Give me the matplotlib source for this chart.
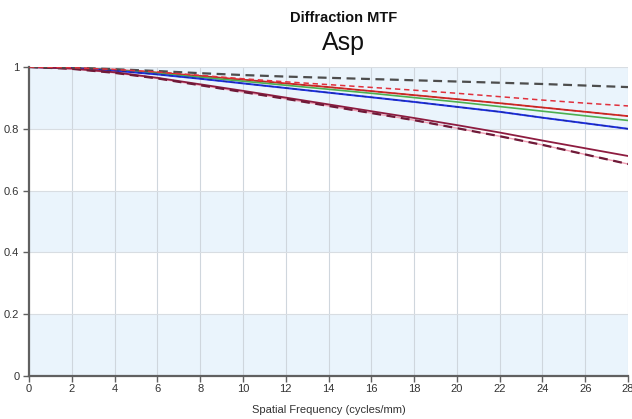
import matplotlib
matplotlib.use("Agg")
import matplotlib.pyplot as plt

plt.rcParams['font.family'] = ['Liberation Sans', 'DejaVu Sans']

freq = [0, 2, 4, 6, 8, 10, 12, 14, 16, 18, 20, 22, 24, 26, 28]
grey_dash = [1, 0.998, 0.993, 0.987, 0.980, 0.974, 0.969, 0.965, 0.961, 0.957, 0.953, 0.949, 0.945, 0.940, 0.935]
red_dash = [1, 0.998, 0.992, 0.984, 0.973, 0.962, 0.952, 0.943, 0.934, 0.925, 0.915, 0.904, 0.893, 0.883, 0.874]
red_solid = [1, 0.997, 0.991, 0.982, 0.971, 0.959, 0.947, 0.935, 0.922, 0.909, 0.896, 0.883, 0.869, 0.855, 0.841]
green_solid = [1, 0.997, 0.990, 0.979, 0.967, 0.954, 0.941, 0.928, 0.915, 0.901, 0.887, 0.872, 0.857, 0.842, 0.827]
blue_solid = [1, 0.997, 0.988, 0.976, 0.962, 0.947, 0.932, 0.917, 0.902, 0.887, 0.871, 0.855, 0.836, 0.818, 0.800]
maroon_solid = [1, 0.995, 0.983, 0.965, 0.944, 0.923, 0.901, 0.879, 0.857, 0.835, 0.812, 0.788, 0.762, 0.737, 0.712]
maroon_dash = [1, 0.994, 0.981, 0.963, 0.941, 0.919, 0.897, 0.874, 0.851, 0.828, 0.802, 0.776, 0.748, 0.717, 0.686]

xticks = list(range(0, 29, 2))
yticks = [0, 0.2, 0.4, 0.6, 0.8, 1]
ytick_labels = ['0', '0.2', '0.4', '0.6', '0.8', '1']

fig = plt.figure(figsize=(6.32, 4.19), dpi=100)
ax = fig.add_axes([29/632, 1-376/419, (628-29)/632, (376-67)/419])

band = '#eaf4fc'
for lo in [0.0, 0.4, 0.8]:
    ax.axhspan(lo, lo + 0.2, color=band, zorder=0, lw=0)

for xv in xticks[1:]:
    ax.axvline(xv, color='#cfd6dd', lw=0.8, zorder=1)
for yv in yticks[1:]:
    ax.axhline(yv, color='#d8dde2', lw=0.8, zorder=1)

ax.plot(freq, grey_dash, color='#4d4d4d', lw=1.6, ls=(0, (4, 2.5)), zorder=5)
ax.plot(freq, red_dash, color='#e0303c', lw=1.1, ls=(0, (3.5, 2.5)), zorder=5)
ax.plot(freq, red_solid, color='#e02424', lw=1.3, zorder=4)
ax.plot(freq, red_solid, color='#a8302a', lw=0.8, ls=(0, (4, 3)), zorder=4)
ax.plot(freq, green_solid, color='#4caf50', lw=1.2, zorder=4)
ax.plot(freq, blue_solid, color='#2030e8', lw=1.4, zorder=4)
ax.plot(freq, blue_solid, color='#1a2a9a', lw=0.8, ls=(0, (4, 3)), zorder=4)
ax.plot(freq, maroon_solid, color='#8e1c40', lw=1.3, zorder=4)
ax.plot(freq, maroon_dash, color='#f0a0b4', lw=1.0, zorder=3)
ax.plot(freq, maroon_dash, color='#6e1a38', lw=1.6, ls=(0, (4, 2.5)), zorder=4)

ax.set_xlim(0, 28)
ax.set_ylim(0, 1)
ax.set_xticks(xticks)
ax.set_xticklabels([str(v) for v in xticks])
ax.set_yticks(yticks)
ax.set_yticklabels(ytick_labels)

for s in ['top', 'right']:
    ax.spines[s].set_visible(False)
for s in ['left', 'bottom']:
    ax.spines[s].set_color('#606060')
    ax.spines[s].set_linewidth(1.6)
ax.tick_params(axis='both', colors='#606060', labelcolor='#333333', labelsize=8, length=4, width=1)
ax.tick_params(axis='x', pad=2)
ax.tick_params(axis='y', pad=3)

ax.set_xlabel('Spatial Frequency (cycles/mm)', fontsize=8, color='#333333', labelpad=8)

fig.text(0.543, 1-18/419, 'Diffraction MTF', ha='center', va='center', fontsize=10.5, fontweight='bold', color='#111111')
fig.text(0.543, 1-43/419, 'Asp', ha='center', va='center', fontsize=18, color='#111111')

fig.savefig('out.png', dpi=100)
